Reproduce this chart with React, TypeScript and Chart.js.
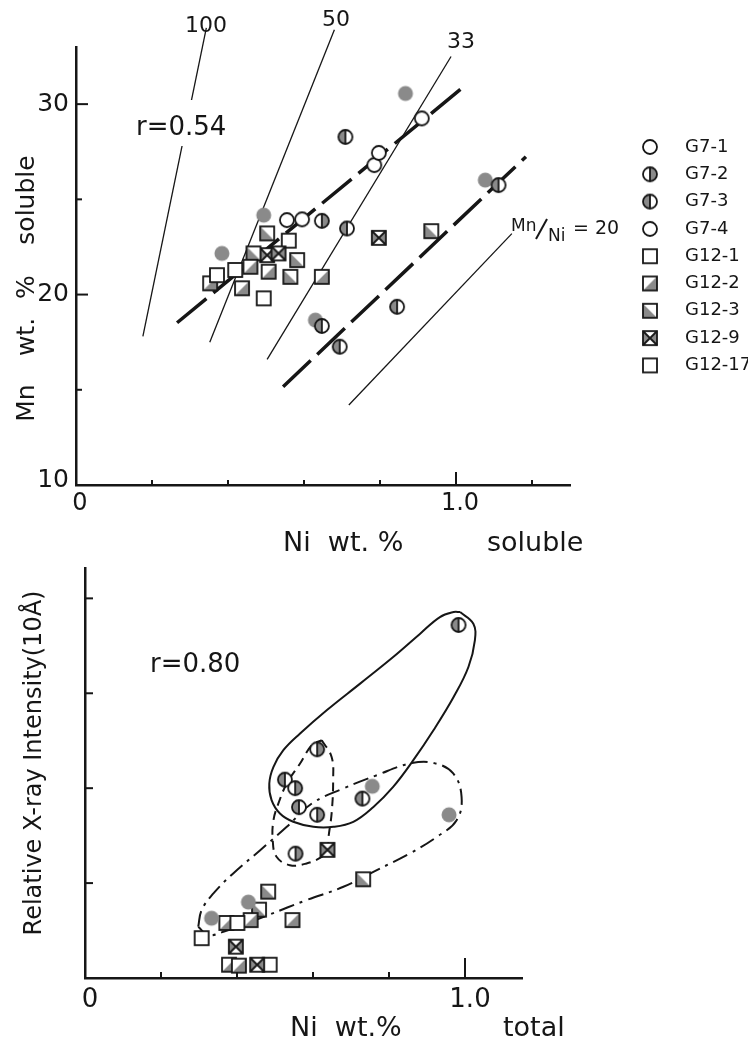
import { useEffect, useRef } from 'react';
import { Chart, registerables } from 'chart.js';

Chart.register(...registerables);

const INK = '#161616';
const GRAY = '#8a8a8a';
const FONT = '"DejaVu Sans", "Liberation Sans", sans-serif';

type Pt = { x: number; y: number };

// ---------- series ----------
const seriesLabels = ['G7-1', 'G7-2', 'G7-3', 'G7-4', 'G12-1', 'G12-2', 'G12-3', 'G12-9', 'G12-17'];
const seriesMarkers = ['open', 'halfR', 'halfL', 'gray', 'sq', 'sqLR', 'sqLL', 'sqX', 'sq'];
const legendMarkers = ['open', 'halfR', 'halfL', 'open', 'sq', 'sqLR', 'sqLL', 'sqX', 'sq'];

// ---------- top chart: Mn soluble vs Ni soluble ----------
const solG7_1: Pt[] = [{ x: 0.555, y: 23.91 }, { x: 0.595, y: 23.95 }, { x: 0.785, y: 26.8 }, { x: 0.797, y: 27.44 }, { x: 0.91, y: 29.25 }];
const solG7_2: Pt[] = [{ x: 0.647, y: 23.87 }];
const solG7_3: Pt[] = [{ x: 0.709, y: 28.28 }, { x: 0.713, y: 23.47 }, { x: 0.647, y: 18.35 }, { x: 0.694, y: 17.26 }, { x: 0.845, y: 19.36 }, { x: 1.112, y: 25.75 }];
const solG7_4: Pt[] = [{ x: 0.494, y: 24.17 }, { x: 0.384, y: 22.16 }, { x: 0.867, y: 30.56 }, { x: 1.077, y: 26.01 }, { x: 0.63, y: 18.66 }];
const solG12_1: Pt[] = [{ x: 0.371, y: 21.02 }, { x: 0.419, y: 21.29 }, { x: 0.494, y: 19.8 }];
const solG12_2: Pt[] = [{ x: 0.437, y: 20.33 }, { x: 0.507, y: 21.2 }, { x: 0.647, y: 20.93 }, { x: 0.459, y: 21.46 }, { x: 0.353, y: 20.59 }];
const solG12_3: Pt[] = [{ x: 0.503, y: 23.21 }, { x: 0.582, y: 21.81 }, { x: 0.564, y: 20.93 }, { x: 0.935, y: 23.33 }, { x: 0.467, y: 22.16 }];
const solG12_9: Pt[] = [{ x: 0.503, y: 22.07 }, { x: 0.533, y: 22.16 }, { x: 0.797, y: 22.98 }];
const solG12_17: Pt[] = [{ x: 0.56, y: 22.83 }];

const ratioLine100: Pt[] = [{ x: 0.176, y: 17.8 }, { x: 0.343, y: 34.0 }];
const ratioLine50: Pt[] = [{ x: 0.352, y: 17.5 }, { x: 0.68, y: 33.9 }];
const ratioLine33: Pt[] = [{ x: 0.503, y: 16.6 }, { x: 0.987, y: 32.5 }];
const ratioLine20: Pt[] = [{ x: 0.718, y: 14.2 }, { x: 1.147, y: 23.2 }];
const regressionUpper: Pt[] = [{ x: 0.266, y: 18.52 }, { x: 1.02, y: 30.91 }];
const regressionLower: Pt[] = [{ x: 0.545, y: 15.16 }, { x: 1.184, y: 27.24 }];

const topXTicks = [0.2, 0.4, 0.6, 0.8, 1.0, 1.2];
const topXMajor = [1.0];
const topYTicks = [15, 20, 25, 30];
const topYMajor = [20, 30];
const topXLabelValues = [0, 1.0];
const topXLabelTexts = ['0', '1.0'];
const topYLabelValues = [10, 20, 30];
const topYLabelTexts = ['10', '20', '30'];

// ---------- bottom chart: X-ray intensity vs Ni total ----------
const totG7_1: Pt[] = [];
const totG7_2: Pt[] = [{ x: 0.553, y: 2.0 }, { x: 0.611, y: 2.41 }, { x: 0.611, y: 1.72 }, { x: 0.554, y: 1.31 }];
const totG7_3: Pt[] = [{ x: 0.983, y: 3.72 }, { x: 0.526, y: 2.09 }, { x: 0.563, y: 1.8 }, { x: 0.73, y: 1.89 }];
const totG7_4: Pt[] = [{ x: 0.756, y: 2.02 }, { x: 0.958, y: 1.72 }, { x: 0.43, y: 0.8 }, { x: 0.333, y: 0.63 }];
const totG12_1: Pt[] = [{ x: 0.401, y: 0.58 }, { x: 0.307, y: 0.42 }];
const totG12_2: Pt[] = [{ x: 0.546, y: 0.61 }, { x: 0.372, y: 0.58 }, { x: 0.436, y: 0.61 }, { x: 0.379, y: 0.14 }, { x: 0.405, y: 0.13 }];
const totG12_3: Pt[] = [{ x: 0.732, y: 1.04 }, { x: 0.482, y: 0.91 }, { x: 0.458, y: 0.72 }];
const totG12_9: Pt[] = [{ x: 0.638, y: 1.35 }, { x: 0.397, y: 0.33 }, { x: 0.453, y: 0.14 }];
const totG12_17: Pt[] = [{ x: 0.486, y: 0.14 }];

const solidLoop: Pt[] = [
  { x: 0.987, y: 3.856 }, { x: 1.022, y: 3.733 }, { x: 1.026, y: 3.558 }, { x: 1.009, y: 3.277 },
  { x: 0.97, y: 2.961 }, { x: 0.917, y: 2.611 }, { x: 0.864, y: 2.295 }, { x: 0.811, y: 2.014 },
  { x: 0.759, y: 1.803 }, { x: 0.706, y: 1.646 }, { x: 0.654, y: 1.593 }, { x: 0.601, y: 1.593 },
  { x: 0.548, y: 1.646 }, { x: 0.513, y: 1.733 }, { x: 0.491, y: 1.874 }, { x: 0.485, y: 2.049 },
  { x: 0.496, y: 2.224 }, { x: 0.522, y: 2.4 }, { x: 0.566, y: 2.576 }, { x: 0.636, y: 2.821 },
  { x: 0.724, y: 3.102 }, { x: 0.811, y: 3.382 }, { x: 0.882, y: 3.628 }, { x: 0.934, y: 3.803 },
  { x: 0.97, y: 3.856 }, { x: 0.987, y: 3.856 },
];
const dashedLoop: Pt[] = [
  { x: 0.623, y: 2.505 }, { x: 0.649, y: 2.329 }, { x: 0.653, y: 2.084 }, { x: 0.649, y: 1.734 },
  { x: 0.64, y: 1.453 }, { x: 0.64, y: 1.347 }, { x: 0.623, y: 1.277 }, { x: 0.583, y: 1.207 },
  { x: 0.539, y: 1.189 }, { x: 0.504, y: 1.277 }, { x: 0.494, y: 1.453 }, { x: 0.496, y: 1.663 },
  { x: 0.509, y: 1.839 }, { x: 0.531, y: 2.049 }, { x: 0.566, y: 2.26 }, { x: 0.597, y: 2.453 },
  { x: 0.623, y: 2.505 },
];
const dashDotLoop: Pt[] = [
  { x: 0.298, y: 0.54 }, { x: 0.307, y: 0.716 }, { x: 0.338, y: 0.891 }, { x: 0.39, y: 1.102 },
  { x: 0.461, y: 1.347 }, { x: 0.531, y: 1.593 }, { x: 0.597, y: 1.839 }, { x: 0.68, y: 1.997 },
  { x: 0.768, y: 2.137 }, { x: 0.855, y: 2.26 }, { x: 0.917, y: 2.266 }, { x: 0.969, y: 2.155 },
  { x: 0.991, y: 1.908 }, { x: 0.978, y: 1.663 }, { x: 0.926, y: 1.487 }, { x: 0.855, y: 1.313 },
  { x: 0.768, y: 1.137 }, { x: 0.68, y: 0.961 }, { x: 0.583, y: 0.821 }, { x: 0.482, y: 0.663 },
  { x: 0.364, y: 0.487 }, { x: 0.324, y: 0.453 }, { x: 0.298, y: 0.54 },
];

const botXTicks = [0.2, 0.4, 0.6, 0.8, 1.0];
const botXMajor = [1.0];
const botYTicks = [1, 2, 3, 4];
const botXLabelValues = [0, 1.0];
const botXLabelTexts = ['0', '1.0'];

// ---------- markers ----------
function makeMarker(kind: string): HTMLCanvasElement {
  const s = 20;
  const c = document.createElement('canvas');
  c.width = s;
  c.height = s;
  const g = c.getContext('2d') as CanvasRenderingContext2D;
  const m = s / 2;
  const r = 7;
  const h = 7;
  g.lineWidth = 1.8;
  g.strokeStyle = INK;
  if (kind === 'gray') {
    g.fillStyle = GRAY;
    g.beginPath();
    g.arc(m, m, r + 0.5, 0, Math.PI * 2);
    g.fill();
    return c;
  }
  if (kind === 'open' || kind === 'halfR' || kind === 'halfL') {
    g.fillStyle = '#fff';
    g.beginPath();
    g.arc(m, m, r, 0, Math.PI * 2);
    g.fill();
    if (kind !== 'open') {
      g.fillStyle = GRAY;
      g.beginPath();
      if (kind === 'halfR') g.arc(m, m, r, -Math.PI / 2, Math.PI / 2);
      else g.arc(m, m, r, Math.PI / 2, Math.PI * 1.5);
      g.closePath();
      g.fill();
      g.beginPath();
      g.moveTo(m, m - r);
      g.lineTo(m, m + r);
      g.stroke();
    }
    g.beginPath();
    g.arc(m, m, r, 0, Math.PI * 2);
    g.stroke();
    return c;
  }
  const x0 = m - h, x1 = m + h, y0 = m - h, y1 = m + h;
  g.fillStyle = '#fff';
  g.fillRect(x0, y0, 2 * h, 2 * h);
  g.fillStyle = GRAY;
  const tri = (p: number[][]) => {
    g.beginPath();
    g.moveTo(p[0][0], p[0][1]);
    for (let i = 1; i < p.length; i++) g.lineTo(p[i][0], p[i][1]);
    g.closePath();
    g.fill();
  };
  if (kind === 'sqLR') tri([[x0, y1], [x1, y0], [x1, y1]]);
  if (kind === 'sqLL') tri([[x0, y0], [x1, y1], [x0, y1]]);
  if (kind === 'sqX') {
    tri([[x0, y0], [m, m], [x0, y1]]);
    tri([[x1, y0], [m, m], [x1, y1]]);
    g.beginPath();
    g.moveTo(x0, y0);
    g.lineTo(x1, y1);
    g.moveTo(x1, y0);
    g.lineTo(x0, y1);
    g.stroke();
  }
  g.strokeRect(x0, y0, 2 * h, 2 * h);
  return c;
}

function line(ctx: CanvasRenderingContext2D, ax: number, ay: number, bx: number, by: number) {
  ctx.beginPath();
  ctx.moveTo(ax, ay);
  ctx.lineTo(bx, by);
  ctx.stroke();
}

function scaleOpts(min: number, max: number) {
  return {
    type: 'linear' as const,
    min,
    max,
    ticks: { display: false },
    grid: { display: false, drawTicks: false },
    border: { display: true, color: INK, width: 2.5 },
  };
}

export default function App() {
  const topRef = useRef<HTMLCanvasElement>(null);
  const botRef = useRef<HTMLCanvasElement>(null);

  useEffect(() => {
    const markers: Record<string, HTMLCanvasElement> = {};
    ['open', 'halfR', 'halfL', 'gray', 'sq', 'sqLR', 'sqLL', 'sqX'].forEach((k) => (markers[k] = makeMarker(k)));

    const pointSets = (series: Pt[][]) =>
      series.map((d, i) => ({
        label: seriesLabels[i],
        data: d,
        pointStyle: markers[seriesMarkers[i]],
        pointRadius: 8,
        showLine: false,
        order: 0,
      }));

    const lineSet = (d: Pt[], width: number, dash: number[], tension = 0) => ({
      label: '',
      data: d,
      showLine: true,
      pointRadius: 0,
      borderColor: INK,
      borderWidth: width,
      borderDash: dash,
      tension,
      clip: false as const,
      order: 5,
    });

    const topDecor = {
      id: 'topDecor',
      afterDraw(chart: any) {
        const { ctx, chartArea: a, scales } = chart;
        const x = scales.x, y = scales.y;
        ctx.save();
        ctx.strokeStyle = INK;
        ctx.fillStyle = INK;
        ctx.lineWidth = 2;
        topXTicks.forEach((v) => {
          const px = x.getPixelForValue(v);
          line(ctx, px, a.bottom, px, a.bottom - (topXMajor.includes(v) ? 13 : 5));
        });
        topYTicks.forEach((v) => {
          const py = y.getPixelForValue(v);
          line(ctx, a.left, py, a.left + (topYMajor.includes(v) ? 12 : 6), py);
        });
        ctx.textBaseline = 'middle';
        ctx.font = `24px ${FONT}`;
        ctx.textAlign = 'center';
        topXLabelValues.forEach((v, i) => ctx.fillText(topXLabelTexts[i], x.getPixelForValue(v) + 4, a.bottom + 19));
        ctx.font = `25px ${FONT}`;
        ctx.textAlign = 'right';
        topYLabelValues.forEach((v, i) => ctx.fillText(topYLabelTexts[i], a.left - 7, y.getPixelForValue(v) - (v === 10 ? 5 : 0)));

        // axis titles
        ctx.font = `27px ${FONT}`;
        ctx.textAlign = 'left';
        ctx.textBaseline = 'alphabetic';
        ctx.fillText('Ni  wt. %', 283, 551);
        ctx.fillText('soluble', 487, 551);
        ctx.save();
        ctx.translate(34, 0);
        ctx.rotate(-Math.PI / 2);
        ctx.font = `25px ${FONT}`;
        ctx.textAlign = 'center';
        ctx.fillText('Mn', -403, 0);
        ctx.fillText('wt.', -337, 0);
        ctx.fillText('%', -287, 0);
        ctx.fillText('soluble', -200, 0);
        ctx.restore();

        // ratio line labels
        ctx.textBaseline = 'middle';
        ctx.textAlign = 'center';
        ctx.font = `22px ${FONT}`;
        ctx.fillText('100', 206, 26);
        ctx.fillText('50', 336, 20);
        ctx.fillText('33', 461, 42);
        ctx.font = `17px ${FONT}`;
        ctx.textAlign = 'left';
        ctx.fillText('Mn', 511, 227);
        ctx.fillText('Ni', 548, 237);
        ctx.lineWidth = 2;
        line(ctx, 536, 239, 547, 219);
        ctx.font = `19px ${FONT}`;
        ctx.fillText('= 20', 573, 229);

        // r label with a gap in the 100 line
        ctx.fillStyle = '#fff';
        ctx.fillRect(132, 100, 100, 46);
        ctx.fillStyle = INK;
        ctx.font = `26px ${FONT}`;
        ctx.fillText('r=0.54', 136, 128);

        // legend
        ctx.font = `18px ${FONT}`;
        legendMarkers.forEach((k, i) => {
          const yy = 147 + i * 27.3;
          ctx.drawImage(markers[k], 650 - 10, yy - 10);
          ctx.fillText(seriesLabels[i], 685, yy);
        });
        ctx.restore();
      },
    };

    const botDecor = {
      id: 'botDecor',
      afterDraw(chart: any) {
        const { ctx, chartArea: a, scales } = chart;
        const x = scales.x, y = scales.y;
        ctx.save();
        ctx.strokeStyle = INK;
        ctx.fillStyle = INK;
        ctx.lineWidth = 2;
        botXTicks.forEach((v) => {
          const px = x.getPixelForValue(v);
          line(ctx, px, a.bottom, px, a.bottom - (botXMajor.includes(v) ? 20 : 6));
        });
        botYTicks.forEach((v) => {
          const py = y.getPixelForValue(v);
          line(ctx, a.left, py, a.left + 8, py);
        });
        ctx.textBaseline = 'middle';
        ctx.textAlign = 'center';
        ctx.font = `26px ${FONT}`;
        botXLabelValues.forEach((v, i) => ctx.fillText(botXLabelTexts[i], x.getPixelForValue(v) + 5, a.bottom + 22));

        ctx.font = `27px ${FONT}`;
        ctx.textAlign = 'left';
        ctx.textBaseline = 'alphabetic';
        ctx.fillText('Ni  wt.%', 290, 496);
        ctx.fillText('total', 503, 496);

        ctx.save();
        ctx.translate(41, 223);
        ctx.rotate(-Math.PI / 2);
        ctx.font = `24px ${FONT}`;
        ctx.textAlign = 'center';
        ctx.fillText('Relative X-ray Intensity(10Å)', 0, 0);
        ctx.restore();

        ctx.font = `26px ${FONT}`;
        ctx.textAlign = 'left';
        ctx.textBaseline = 'middle';
        ctx.fillText('r=0.80', 150, 125);
        ctx.restore();
      },
    };

    const top = new Chart(topRef.current as HTMLCanvasElement, {
      type: 'scatter',
      data: {
        datasets: [
          ...pointSets([solG7_1, solG7_2, solG7_3, solG7_4, solG12_1, solG12_2, solG12_3, solG12_9, solG12_17]),
          lineSet(ratioLine100, 1.3, []),
          lineSet(ratioLine50, 1.3, []),
          lineSet(ratioLine33, 1.3, []),
          lineSet(ratioLine20, 1.3, []),
          lineSet(regressionUpper, 3.5, [38, 9]),
          lineSet(regressionLower, 3.5, [38, 9]),
        ] as any,
      },
      options: {
        animation: false,
        responsive: false,
        devicePixelRatio: 1,
        events: [],
        layout: { padding: { left: 76, right: 178, top: 47, bottom: 75 } },
        plugins: { legend: { display: false }, tooltip: { enabled: false } },
        scales: { x: scaleOpts(0, 1.3), y: scaleOpts(10, 33) },
      } as any,
      plugins: [topDecor],
    });

    const bot = new Chart(botRef.current as HTMLCanvasElement, {
      type: 'scatter',
      data: {
        datasets: [
          ...pointSets([totG7_1, totG7_2, totG7_3, totG7_4, totG12_1, totG12_2, totG12_3, totG12_9, totG12_17]),
          lineSet(solidLoop, 2, [], 0.4),
          lineSet(dashedLoop, 2, [9, 6], 0.4),
          lineSet(dashDotLoop, 2, [16, 6, 3, 6], 0.4),
        ] as any,
      },
      options: {
        animation: false,
        responsive: false,
        devicePixelRatio: 1,
        events: [],
        layout: { padding: { left: 85, right: 226, top: 28, bottom: 61 } },
        plugins: { legend: { display: false }, tooltip: { enabled: false } },
        scales: { x: scaleOpts(0, 1.15), y: scaleOpts(0, 4.32) },
      } as any,
      plugins: [botDecor],
    });

    return () => {
      top.destroy();
      bot.destroy();
    };
  }, []);

  return (
    <div style={{ position: 'absolute', left: 0, top: 0, width: 748, height: 1039, background: '#fff' }}>
      <canvas ref={topRef} width={748} height={560} style={{ position: 'absolute', left: 0, top: 0, width: 748, height: 560 }} />
      <canvas ref={botRef} width={748} height={499} style={{ position: 'absolute', left: 0, top: 540, width: 748, height: 499 }} />
    </div>
  );
}
